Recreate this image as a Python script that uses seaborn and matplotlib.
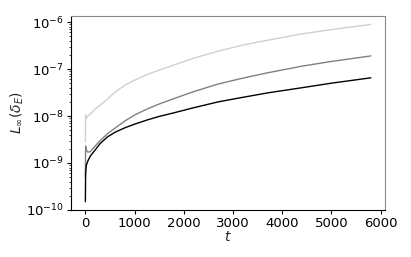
import numpy as np
import pandas as pd
import matplotlib
matplotlib.use('Agg')
import matplotlib.pyplot as plt
import seaborn as sns

# time samples and error curves
t = [0, 5, 20, 50, 100, 200, 300, 450, 600, 800, 1000, 1250, 1500, 1800,
     2200, 2700, 3200, 3700, 4400, 5000, 5800]
err_light = [2.8e-9, 1.05e-8, 9.0e-9, 1.0e-8, 1.1e-8, 1.4e-8, 1.7e-8, 2.3e-8,
             3.2e-8, 4.5e-8, 5.8e-8, 7.6e-8, 9.5e-8, 1.22e-7, 1.7e-7, 2.4e-7,
             3.24e-7, 4.1e-7, 5.6e-7, 6.9e-7, 8.9e-7]
err_gray = [5e-10, 2.3e-9, 1.9e-9, 1.7e-9, 1.75e-9, 2.3e-9, 3.0e-9, 4.2e-9,
            5.5e-9, 7.8e-9, 1.05e-8, 1.4e-8, 1.8e-8, 2.35e-8, 3.3e-8, 4.8e-8,
            6.4e-8, 8.3e-8, 1.15e-7, 1.45e-7, 1.9e-7]
err_black = [1.5e-10, 6e-10, 9e-10, 1.1e-9, 1.4e-9, 1.9e-9, 2.6e-9, 3.6e-9,
             4.5e-9, 5.6e-9, 6.7e-9, 8.2e-9, 9.8e-9, 1.17e-8, 1.5e-8, 2.0e-8,
             2.5e-8, 3.1e-8, 4.0e-8, 5.0e-8, 6.5e-8]

sns.set_style('ticks')
fig = plt.figure(figsize=(4.11, 2.57), dpi=100)
ax = fig.add_axes([0.173, 0.183, 0.764, 0.755])

sns.lineplot(x=t, y=err_light, color='#d0d0d0', lw=1.0, ax=ax)
sns.lineplot(x=t, y=err_gray, color='#808080', lw=1.0, ax=ax)
sns.lineplot(x=t, y=err_black, color='black', lw=1.0, ax=ax)

ax.set_yscale('log')
ax.set_ylim(1e-10, 10 ** -5.87)
ax.set_xticks([0, 1000, 2000, 3000, 4000, 5000, 6000])
ax.tick_params(labelsize=9.5, length=3, width=0.8, colors='black', pad=2)
ax.tick_params(which='minor', length=1.5, width=0.6)
ax.set_xlabel('$t$', fontsize=10, labelpad=0)
ax.set_ylabel(r'$L_\infty(\delta_E)$', fontsize=10, labelpad=0)
for s in ['left', 'bottom']:
    ax.spines[s].set_color('black')
for s in ['top', 'right']:
    ax.spines[s].set_color('#888888')

fig.savefig('out.png', dpi=100)
